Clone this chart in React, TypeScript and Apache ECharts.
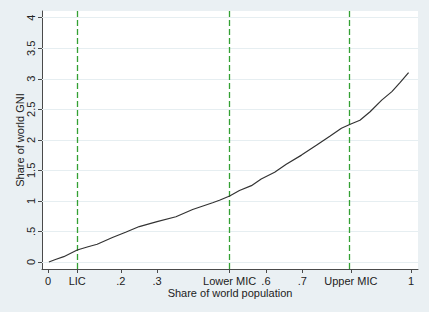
import React, { useEffect, useRef } from "react";
import * as echarts from "echarts";

const popShare = [0.002, 0.02, 0.043, 0.08, 0.11, 0.135, 0.177, 0.215, 0.251, 0.3, 0.352, 0.398, 0.453, 0.472, 0.5, 0.527, 0.56, 0.587, 0.624, 0.656, 0.698, 0.739, 0.776, 0.808, 0.834, 0.859, 0.887, 0.919, 0.947, 0.97, 0.993];
const gniShare = [0.0, 0.04, 0.087, 0.196, 0.25, 0.29, 0.4, 0.49, 0.58, 0.66, 0.74, 0.86, 0.97, 1.01, 1.08, 1.17, 1.25, 1.36, 1.47, 1.6, 1.75, 1.91, 2.06, 2.19, 2.26, 2.32, 2.46, 2.65, 2.79, 2.94, 3.1];

const xTickValues = [0, 0.08, 0.2, 0.3, 0.5, 0.6, 0.7, 0.834, 1];
const xTickLabels = ["0", "LIC", ".2", ".3", "Lower MIC", ".6", ".7", "Upper MIC", "1"];
const yTickValues = [0, 0.5, 1, 1.5, 2, 2.5, 3, 3.5, 4];
const yTickLabels = ["0", ".5", "1", "1.5", "2", "2.5", "3", "3.5", "4"];
const thresholds = [0.08, 0.5, 0.834];

const FONT = "'Liberation Sans', Arial, sans-serif";

function lookup(values: number[], labels: string[], v: number): string {
  for (let i = 0; i < values.length; i++) {
    if (Math.abs(values[i] - v) < 1e-6) return labels[i];
  }
  return "";
}

export default function App() {
  const ref = useRef<HTMLDivElement>(null);
  useEffect(() => {
    if (!ref.current) return;
    const chart = echarts.init(ref.current, null, { renderer: "svg" });
    const axisColor = "#4a4a4a";
    chart.setOption({
      animation: false,
      backgroundColor: "#eaf0f3",
      grid: {
        left: 42,
        right: 11,
        top: 11,
        bottom: 43,
        outerBoundsMode: "none",
        containLabel: false,
        show: true,
        backgroundColor: "#ffffff",
        borderWidth: 0,
      },
      xAxis: {
        type: "value",
        min: -0.017,
        max: 1.019,
        name: "Share of world population",
        nameLocation: "middle",
        nameGap: 18,
        nameMoveOverlap: false,
        nameTextStyle: { fontSize: 11, color: "#222", fontFamily: FONT },
        axisLine: { show: true, onZero: false, lineStyle: { color: axisColor, width: 1 } },
        axisTick: {
          show: true,
          customValues: xTickValues,
          length: 4,
          lineStyle: { color: axisColor },
        },
        axisLabel: {
          customValues: xTickValues,
          formatter: (v: number) => lookup(xTickValues, xTickLabels, v),
          fontSize: 11,
          color: "#222",
          fontFamily: FONT,
          margin: 6,
        },
        splitLine: { show: false },
      },
      yAxis: {
        type: "value",
        min: -0.115,
        max: 4.11,
        name: "Share of world GNI",
        nameLocation: "middle",
        nameRotate: 90,
        nameGap: 17,
        nameMoveOverlap: false,
        nameTextStyle: { fontSize: 11, color: "#222", fontFamily: FONT },
        axisLine: { show: true, onZero: false, lineStyle: { color: axisColor, width: 1 } },
        axisTick: {
          show: true,
          customValues: yTickValues,
          length: 4,
          lineStyle: { color: axisColor },
        },
        axisLabel: {
          customValues: yTickValues,
          formatter: (v: number) => lookup(yTickValues, yTickLabels, v),
          rotate: 90,
          fontSize: 11,
          color: "#222",
          fontFamily: FONT,
          margin: 6,
        },
        splitLine: { show: false },
      },
      series: [
        {
          type: "line",
          data: [],
          z: 1,
          silent: true,
          markLine: {
            silent: true,
            z: 1,
            symbol: "none",
            label: { show: false },
            lineStyle: { color: "#e6eef1", type: "solid", width: 1 },
            data: yTickValues.map((v) => ({ yAxis: v })),
          },
        },
        {
          type: "line",
          data: [],
          z: 2,
          silent: true,
          markLine: {
            silent: true,
            z: 2,
            symbol: "none",
            label: { show: false },
            lineStyle: { color: "#33a033", type: [6, 3], width: 1.3 },
            data: thresholds.map((v) => ({ xAxis: v })),
          },
        },
        {
          type: "line",
          z: 10,
          showSymbol: false,
          data: popShare.map((x, i) => [x, gniShare[i]]),
          lineStyle: { color: "#333333", width: 1.2 },
        },
      ],
    });
    return () => chart.dispose();
  }, []);
  return (
    <div
      ref={ref}
      style={{ position: "fixed", left: 0, top: 0, width: 429, height: 312 }}
    />
  );
}
